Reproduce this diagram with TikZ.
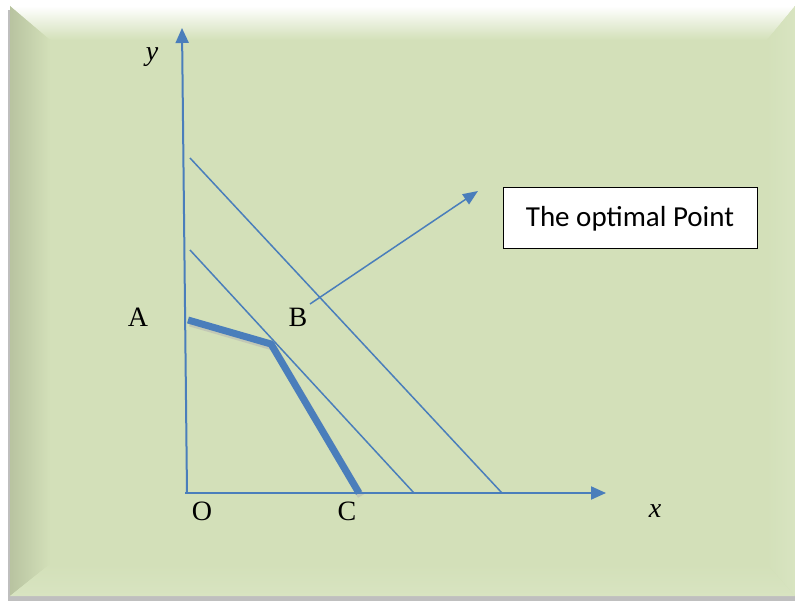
\documentclass[tikz,border=0pt]{standalone}
\usepackage{fontspec}
\setmainfont{Liberation Serif}
\newfontfamily\calib{Carlito}
\usetikzlibrary{arrows.meta}
\definecolor{face}{HTML}{D3E0B9}
\definecolor{faceDark}{HTML}{B8C3A0}
\definecolor{faceLight}{HTML}{D8E4C1}
\definecolor{lineblue}{HTML}{4A7EBB}
\begin{document}
\begin{tikzpicture}[x=1pt,y=-1pt,
  axis/.style={draw=lineblue,line width=2pt,-{Triangle[length=15pt,width=13pt]}},
  thin/.style={draw=lineblue,line width=1.5pt},
  thick/.style={draw=lineblue,line width=7pt,line join=bevel},
  lbl/.style={inner sep=0pt,font=\fontsize{28}{31}\selectfont},
  box/.style={draw=black,line width=1pt,fill=white,minimum width=254pt,minimum height=61pt,inner sep=0pt,font=\calib\fontsize{29}{33}\selectfont}]
\useasboundingbox (0,0) rectangle (795,601);
\fill[white] (0,0) rectangle (795,601);
% shadow
\fill[black!25] (8,10) rectangle (795,601);
% frame face
\fill[face] (10,6) rectangle (795,596);
% bevels
\shade[top color=white,bottom color=face] (10,6) -- (795,6) -- (767,40) -- (50,40) -- cycle;
\shade[left color=faceDark,right color=face] (10,6) -- (50,40) -- (50,564) -- (10,596) -- cycle;
\shade[left color=face,right color=faceLight] (795,6) -- (795,596) -- (767,564) -- (767,40) -- cycle;
\shade[top color=face,bottom color=faceLight] (10,596) -- (50,564) -- (767,564) -- (795,596) -- cycle;
\fill[face] (50,40) rectangle (767,564);
% points
\coordinate (O) at (187,493);
\coordinate (Ytip) at (182,28);
\coordinate (Xtip) at (606,493);
\coordinate (L1a) at (190,158);
\coordinate (L1b) at (502,493);
\coordinate (L2a) at (190,250);
\coordinate (L2b) at (414,493);
\coordinate (Ap) at (188,320);
\coordinate (Bp) at (271,344);
\coordinate (Cp) at (359,493);
\coordinate (Ar0) at (310,304);
\coordinate (Ar1) at (478,191);
% thin lines
\draw[thin] (L1a) -- (L1b);
\draw[thin] (L2a) -- (L2b);
% thick polyline with shadow
\draw[line width=7pt,black!30,opacity=0.5,line join=bevel] ([shift={(2,3)}]Ap) -- ([shift={(2,3)}]Bp) -- ([shift={(2,3)}]Cp);
\draw[thick] (Ap) -- (Bp) -- (Cp);
% axes
\draw[axis] (O) -- (Ytip);
\draw[axis] ([xshift=-2pt]O) -- (Xtip);
% arrow
\draw[thin,-{Triangle[length=15pt,width=12pt]}] (Ar0) -- (Ar1);
% box
\node[box] (opt) at (630,218.5) {The optimal Point};
% labels
\node[lbl] (ly) at (152,57) {\itshape y};
\node[lbl] (lA) at (138,317) {A};
\node[lbl] (lB) at (298,317) {B};
\node[lbl] (lO) at (202,511) {O};
\node[lbl] (lC) at (347,511) {C};
\node[lbl] (lx) at (655,511) {\itshape x};
\end{tikzpicture}
\end{document}
